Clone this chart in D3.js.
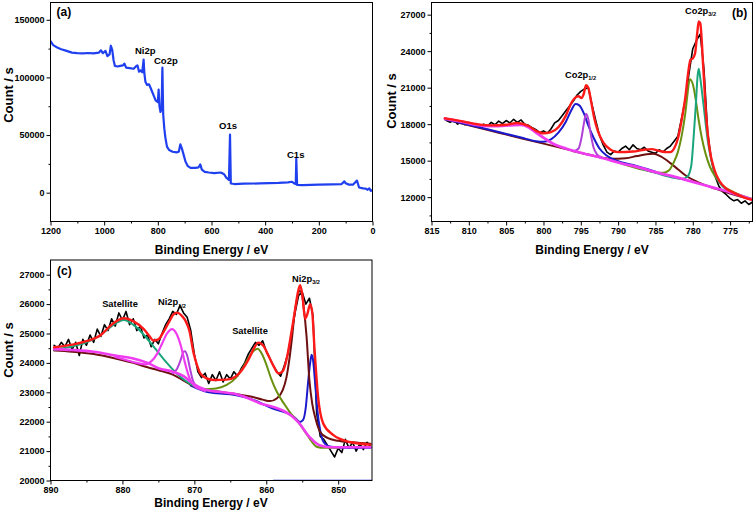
<!DOCTYPE html>
<html><head><meta charset="utf-8">
<script src="https://cdn.jsdelivr.net/npm/d3@7"></script>
<style>
body{margin:0;background:#fff}
svg{display:block}
text{font-family:"Liberation Sans",Arial,sans-serif;font-weight:bold;fill:#000}
</style>
</head><body>
<svg id="chart" width="756" height="513"></svg>
<script>
// ---------------- DATA ----------------
// Panel (a): survey spectrum [binding energy, counts]
const surveyA = [[1200,131500],[1190,128000],[1175,126000],[1160,124500],[1140,123000],[1120,121500],[1100,121000],[1080,120800],[1060,121200],[1040,120800],[1020,121500],[1012,123500],[1005,121000],[995,123000],[988,118500],[980,120000],[975,127500],[970,124000],[965,115000],[960,110000],[950,109500],[940,110000],[930,110500],[925,112000],[918,108500],[905,108000],[890,107500],[882,109500],[876,110500],[870,105000],[864,106000],[858,104500],[853,115500],[850,103000],[846,96000],[840,93500],[833,94000],[828,91500],[822,88000],[815,84000],[808,80000],[800,78500],[797,89500],[794,75000],[790,70000],[786,73000],[783,108500],[780,68000],[776,56000],[772,48000],[766,40000],[758,37000],[745,35500],[730,35000],[722,35500],[716,42000],[710,38000],[704,33000],[697,27000],[688,23000],[678,21500],[660,21500],[648,22000],[642,24500],[636,20000],[625,18000],[610,17500],[590,17000],[565,17500],[553,16000],[545,13000],[535,11000],[531,50500],[528,8000],[515,7500],[480,7800],[420,8000],[350,8500],[315,9000],[300,9500],[292,8000],[286,7500],[284,29500],[281,6800],[260,6500],[200,7000],[150,7200],[115,7500],[105,9800],[100,8200],[88,7000],[72,7000],[64,9000],[58,10500],[54,7500],[50,4500],[35,3800],[25,3500],[18,2500],[12,3800],[6,1500],[0,2500]];
const aXTicks = [1200,1000,800,600,400,200,0];
const aXMinor = [1100,900,700,500,300,100];
const aYTicks = [0,50000,100000,150000];
const aYMinor = [25000,75000,125000];

// Panel (b): Co2p
const bEnergy = d3.range(813, 771.9, -0.5);
const bCounts = [18300,18150,18350,18000,18200,17950,18150,17900,18050,17800,
  18000,17850,18150,17950,18250,18050,18300,18100,18400,18150,
  18350,18000,17900,17700,17550,17300,17450,17250,17600,18100,
  18300,18700,19100,19500,19900,20400,20700,20900,21000,19600,
  18300,17100,16300,15700,15500,15800,15700,16000,16200,15900,
  16300,16000,15900,16100,15800,15700,15600,15900,15700,16000,
  16200,16600,17000,18500,20000,22200,24200,24900,25400,22500,
  17300,15000,13700,12900,12450,12200,11900,11700,11800,11500,
  11700,11400,11600];
const bEnvelope = [[813.2,18480],[811,18250],[809,18000],[807,17900],[805,17950],[803.5,18100],[802,17850],[801,17450],[800,17250],[799,17350],[798,17750],[797,18700],[796.3,19700],[795.8,20150],[795.3,20300],[794.9,20150],[794.6,20500],[794.3,21200],[794.0,21000],[793.6,19800],[793.2,18500],[792.7,17400],[792,16500],[791,15900],[790,15700],[788,15750],[786.5,15900],[785.5,15950],[784.5,15800],[783.5,15700],[783,15700],[782.5,16000],[782,16800],[781.5,18300],[781,20200],[780.6,22300],[780.3,23300],[780,23400],[779.7,23800],[779.4,25500],[779.2,26450],[779.0,26300],[778.6,22700],[778.2,18600],[777.8,16200],[777.1,14250],[776.4,13300],[775.6,12750],[774.5,12350],[773,11950],[772,11780]];
const bSatBackground = [[813.2,18450],[811,18200],[809,17950],[807,17850],[805.5,17870],[804,17930],[803,17950],[802,17750],[801,17300],[800,16900],[799,16500],[798,16200],[797,16000],[795,15650],[792,15200],[790,14850],[787,14400],[785,14050],[782,13600],[780,13250],[777,12750],[775,12400],[772,11800]];
const bPeak1 = [[813.2,18400],[810,17950],[806,17350],[803,16900],[801,16600],[800,16550],[799,16750],[798,17300],[797,18200],[796.3,19100],[795.7,19650],[795.2,19550],[794.6,18900],[794,17900],[793.3,16900],[792.5,16000],[791.5,15400],[790,14950],[788,14650],[785,14100]];
const bPeak2 = [[796,15750],[795.3,16000],[794.9,16900],[794.6,18000],[794.3,18850],[794.0,18400],[793.7,17300],[793.3,16100],[792.8,15500],[792.3,15300]];
const bSat2 = [[813.2,18400],[810,17900],[806,17300],[803,16850],[800,16400],[797,15950],[794,15500],[791,15150],[789,15200],[787.5,15380],[786.2,15530],[785.3,15560],[784.3,15350],[783,14800],[782,14300],[781,13800],[779,13150],[777,12700],[775,12300],[772,11800]];
const bPeak3 = [[790,14850],[787,14300],[785,14050],[784,14000],[783.2,14200],[782.6,14800],[782,15700],[781.5,17000],[781,18900],[780.7,20500],[780.4,21700],[780.0,21300],[779.6,20000],[779.2,18300],[778.8,16900],[778.3,15600],[777.7,14500],[777,13700],[776.2,13050],[775,12550],[773.5,12150],[772,11850]];
const bPeak4 = [[787,14350],[785,14000],[783,13650],[781.5,13500],[780.7,13700],[780.2,14600],[779.9,16800],[779.6,19500],[779.35,22000],[779.2,22550],[779.0,21800],[778.6,19800],[778.0,16700],[777.3,14500],[776.7,13500],[776,12900],[775,12450],[773.5,12100],[772,11800]];
const bXTicks = [815,810,805,800,795,790,785,780,775];
const bXMinor = [812.5,807.5,802.5,797.5,792.5,787.5,782.5,777.5,772.5];
const bYTicks = [12000,15000,18000,21000,24000,27000];
const bYMinor = [10500,13500,16500,19500,22500,25500];

// Panel (c): Ni2p
const cEnergy = d3.range(889.5, 845.4, -0.5);
const cCounts = [24600,24500,24700,24550,24800,24450,24700,24250,24800,24600,
  24950,24700,25150,24900,25300,25100,25500,25250,25700,25450,
  25750,25300,25500,25100,25250,24850,24950,24550,24800,24650,
  25000,25300,25500,25750,25650,25950,25700,25550,25100,24300,
  23700,23500,23650,23300,23600,23400,23700,23350,23600,23450,
  23700,23550,23800,24000,24300,24500,24700,24600,24750,24400,
  24150,23900,23700,23550,23900,24300,25000,25700,26300,26400,
  26000,26200,25600,22300,21500,21400,21200,21000,20800,21100,
  20950,21400,21100,21300,21000,21250,21050,21300,21150];
const cEnvelope = [[889.5,24530],[887,24620],[885,24740],[883,24950],[881.5,25300],[879.8,25520],[878.5,25420],[877,25140],[876.2,24900],[875.7,24760],[875,24800],[874.3,25050],[873.5,25400],[872.9,25650],[872.4,25710],[871.8,25620],[871.2,25420],[870.7,25100],[870.1,24330],[869.6,23900],[869.2,23650],[868.3,23470],[867.3,23420],[865.5,23430],[864.3,23530],[863.4,23750],[862.5,24100],[861.7,24500],[861.1,24690],[860.4,24580],[859.7,24250],[859,23900],[858.3,23640],[857.7,23720],[857.2,24100],[856.6,24900],[856,25800],[855.6,26400],[855.3,26640],[855,26350],[854.6,25500],[854.3,25650],[853.9,26000],[853.6,25700],[853.3,24500],[852.8,22850],[852.1,21950],[850.7,21550],[848.4,21310],[845.5,21220]];
const cSat1 = [[889.5,24450],[887,24560],[885,24700],[883,24950],[881.5,25250],[879.8,25460],[878.5,25300],[877,24950],[875.5,24500],[874,24050],[872.5,23650],[871,23350],[869.5,23150],[868,23050]];
const cBackground = [[889.5,24470],[887,24440],[884,24380],[881,24250],[878.5,24150],[876.5,24000],[875,23820],[873,23700],[871.5,23550],[870.2,23300],[868.3,23080],[866,23000],[864.6,22960],[862.5,22800],[860.9,22630],[859,22500],[857.7,22380],[856.5,22200],[855.4,21940],[854,21480],[852.6,21200],[851,21130],[848,21130],[845.5,21130]];
const cMain = [[889.5,24420],[887,24380],[884,24300],[881,24150],[878.5,24000],[876.5,23850],[875,23750],[873,23600],[871.5,23400],[870,23200],[868.5,23100],[866,23000],[864,22930],[862,22850],[860.5,22750],[859.5,22700],[858.5,22800],[857.7,23080],[857.2,23500],[856.8,24100],[856.4,24900],[856.1,25600],[855.7,26200],[855.4,26450],[855.1,26400],[854.8,25900],[854.4,24900],[854,23400],[853.6,22600],[853.2,22150],[852.5,21650],[851.5,21450],[850,21350],[848,21300],[845.5,21250]];
const cHalf = [[881,24200],[879.5,24100],[878,24000],[876.8,23950],[876,24050],[875.2,24300],[874.5,24650],[873.8,25000],[873.1,25150],[872.5,25000],[871.9,24600],[871.3,24000],[870.7,23500],[870.1,23250],[869.3,23120],[868.5,23050]];
const cHalf2 = [[873,23650],[872.4,23800],[871.9,24100],[871.5,24380],[871.3,24400],[871,24250],[870.6,23800],[870.2,23400],[869.7,23200],[869,23100]];
const cSat2 = [[869,23100],[867,23130],[865.5,23250],[864.2,23500],[863.2,23850],[862.4,24200],[861.7,24420],[861.2,24480],[860.6,24300],[860,23950],[859.3,23450],[858.5,23000],[857.5,22600],[856.5,22250],[855.6,22000],[854.6,21650],[853.6,21300],[853,21150],[852,21110],[850,21110]];
const cSmall = [[870.5,23230],[868,23000],[865,22930],[862,22760],[859,22440],[857,22280],[856,22130],[855.3,21990],[854.9,22050],[854.5,22500],[854.2,23300],[853.9,24000],[853.7,24280],[853.5,24100],[853.2,23300],[852.9,22400],[852.5,21700],[852,21300],[851,21150],[848,21110],[845.5,21110]];
const cFloor = [[859,20000],[845.3,20000]];
const cXTicks = [890,880,870,860,850];
const cXMinor = [885,875,865,855];
const cYTicks = [20000,21000,22000,23000,24000,25000,26000,27000];
const cYMinor = [20500,21500,22500,23500,24500,25500,26500];

// ---------------- DRAW ----------------
const svg = d3.select("#chart");
const FONT = '"Liberation Sans",Arial,sans-serif';

function makePanel(o) {
  const x = d3.scaleLinear().domain(o.xDomain).range([o.left, o.right]);
  const y = d3.scaleLinear().domain(o.yDomain).range([o.bottom, o.top]);
  const g = svg.append("g");
  const styleAxis = sel => {
    sel.attr("font-family", FONT).attr("font-size", 9).attr("font-weight", "bold");
    sel.select(".domain").remove();
    sel.selectAll("line").attr("stroke", "#000");
  };
  g.append("g").attr("transform", `translate(0,${o.bottom})`)
    .call(d3.axisBottom(x).tickValues(o.xMajor).tickSize(4).tickPadding(2).tickFormat(d3.format("d"))).call(styleAxis);
  g.append("g").attr("transform", `translate(0,${o.bottom})`)
    .call(d3.axisBottom(x).tickValues(o.xMinor).tickSize(2).tickFormat("")).call(styleAxis);
  g.append("g").attr("transform", `translate(${o.left},0)`)
    .call(d3.axisLeft(y).tickValues(o.yMajor).tickSize(4).tickPadding(2).tickFormat(d3.format("d"))).call(styleAxis);
  g.append("g").attr("transform", `translate(${o.left},0)`)
    .call(d3.axisLeft(y).tickValues(o.yMinor).tickSize(2).tickFormat("")).call(styleAxis);
  const id = "clip" + o.name;
  svg.append("clipPath").attr("id", id).append("rect")
    .attr("x", o.left).attr("y", o.top).attr("width", o.right - o.left).attr("height", o.bottom - o.top);
  const plot = g.append("g").attr("clip-path", `url(#${id})`);
  const frame = g.append("rect").attr("x", o.left).attr("y", o.top)
    .attr("width", o.right - o.left).attr("height", o.bottom - o.top)
    .attr("fill", "none").attr("stroke", "#000").attr("stroke-width", 1);
  return {g, plot, x, y, frame};
}

function line(p, data, color, width, curve) {
  const gen = d3.line().x(d => p.x(d[0])).y(d => p.y(d[1])).curve(curve || d3.curveMonotoneX);
  p.plot.append("path").datum(data).attr("d", gen).attr("fill", "none")
    .attr("stroke", color).attr("stroke-width", width).attr("stroke-linejoin", "round").attr("stroke-linecap", "round");
}

function txt(g, x, y, s, size, sub, anchor) {
  const t = g.append("text").attr("x", x).attr("y", y).attr("font-size", size).attr("text-anchor", anchor || "start");
  t.append("tspan").text(s);
  if (sub) t.append("tspan").attr("font-size", size * 0.6).attr("dy", 2.5).text(sub);
  return t;
}

const C = {red:"#ff1a1a", blue:"#1a1acc", purple:"#b040d8", magenta:"#f03cf0", brown:"#6e1010", olive:"#6a9010", teal:"#1aa57a", survey:"#2040f0"};

// Panel (a)
const pa = makePanel({name:"a", xDomain:[1200,0], yDomain:[-25000,165000], left:50.5, right:372.5, top:2.5, bottom:221.5,
  xMajor:aXTicks, xMinor:aXMinor, yMajor:aYTicks, yMinor:aYMinor});
line(pa, surveyA, C.survey, 2.2, d3.curveLinear);
txt(pa.g, 56.5, 16, "(a)", 12);
txt(pa.g, 135, 54, "Ni2p", 9.5);
txt(pa.g, 154, 64, "Co2p", 9.5);
txt(pa.g, 219, 129, "O1s", 9.5);
txt(pa.g, 287, 157.5, "C1s", 9.5);

// Panel (b)
const pb = makePanel({name:"b", xDomain:[815,772], yDomain:[10000,28000], left:431.5, right:752.5, top:2.5, bottom:221.5,
  xMajor:bXTicks, xMinor:bXMinor, yMajor:bYTicks, yMinor:bYMinor});
line(pb, bEnergy.map((e,i) => [e, bCounts[i]]), "#000", 1.6, d3.curveLinear);
line(pb, bSat2, C.brown, 2);
line(pb, bPeak1, C.blue, 2);
line(pb, bPeak2, C.purple, 2);
line(pb, bPeak3, C.olive, 2);
line(pb, bPeak4, C.teal, 2);
line(pb, bSatBackground, C.magenta, 2.8);
line(pb, bEnvelope, C.red, 2.4);
txt(pb.g, 732, 16.5, "(b)", 12);
txt(pb.g, 685, 13.5, "Co2p", 9.3, "3/2");
txt(pb.g, 565, 77.5, "Co2p", 9.3, "1/2");

// Panel (c)
const pc = makePanel({name:"c", xDomain:[890,845.3], yDomain:[20000,27500], left:50.5, right:372, top:260, bottom:480.5,
  xMajor:cXTicks, xMinor:cXMinor, yMajor:cYTicks, yMinor:cYMinor});
line(pc, cEnergy.map((e,i) => [e, cCounts[i]]), "#000", 1.6, d3.curveLinear);
line(pc, cSmall, C.blue, 2);
line(pc, cFloor, C.blue, 1.5, d3.curveLinear);
line(pc, cMain, C.brown, 2);
line(pc, cSat1, C.teal, 2);
line(pc, cSat2, C.olive, 2);
line(pc, cHalf2, C.purple, 2);
line(pc, cHalf, C.magenta, 2.2);
line(pc, cBackground, C.magenta, 2.6);
line(pc, cEnvelope, C.red, 2.4);
txt(pc.g, 57, 275, "(c)", 12);
txt(pc.g, 120, 307, "Satellite", 9.3, null, "middle");
txt(pc.g, 158, 305, "Ni2p", 9.3, "1/2");
txt(pc.g, 250, 334, "Satellite", 9.3, null, "middle");
txt(pc.g, 292, 281.5, "Ni2p", 9.3, "3/2");

// Axis titles
function ytitle(x, y) {
  svg.append("text").attr("transform", `translate(${x},${y}) rotate(-90)`).attr("text-anchor", "middle")
    .attr("font-size", 13).text("Count / s");
}
function xtitle(x, y) {
  svg.append("text").attr("x", x).attr("y", y).attr("text-anchor", "middle").attr("font-size", 12).text("Binding Energy / eV");
}
ytitle(12.5, 95); ytitle(395.5, 101); ytitle(13, 350);
xtitle(211.5, 253.5); xtitle(592, 253.5); xtitle(211, 507);
</script>
</body></html>
